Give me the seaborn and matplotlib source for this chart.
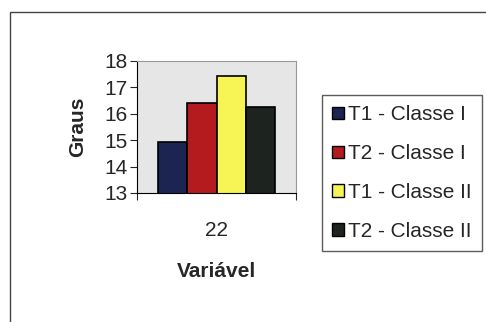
import matplotlib
matplotlib.use('Agg')
import matplotlib.pyplot as plt
import matplotlib.patches as mpatches
import seaborn as sns
import pandas as pd

# data
series = ['T1 - Classe I', 'T2 - Classe I', 'T1 - Classe II', 'T2 - Classe II']
values = [14.95, 16.4, 17.45, 16.25]
category = '22'
colors = ['#1c2452', '#b31b1e', '#f7f455', '#1d2420']

sns.set_style('white')
plt.rcParams['font.family'] = ['Liberation Sans', 'DejaVu Sans']

df = pd.DataFrame({'Variavel': [category] * len(series), 'Serie': series, 'Graus': values})

fig = plt.figure(figsize=(4.86, 3.22), dpi=100)
ax = fig.add_axes([137 / 486, 1 - 193 / 322, 159 / 486, 132 / 322])

sns.barplot(data=df, x='Variavel', y='Graus', hue='Serie', hue_order=series,
            palette=colors, width=0.74, gap=0, edgecolor='black', linewidth=1.2,
            saturation=1, legend=False, ax=ax)

ax.set_facecolor('#e6e6e6')
ax.set_ylim(13, 18)
ax.set_xlim(-0.5, 0.5)
ax.set_yticks([13, 14, 15, 16, 17, 18])
ax.tick_params(axis='y', labelsize=15, length=5, width=0.8, direction='out', pad=2, left=True)
ax.set_xticks([0])
ax.set_xticklabels([category], fontsize=15)
ax.tick_params(axis='x', length=0, pad=20)
ax.set_xticks([-0.5, 0.5], minor=True)
ax.tick_params(axis='x', which='minor', length=5, width=0.8, direction='out', bottom=True)

for side in ['top', 'right']:
    ax.spines[side].set_color('#999999')
    ax.spines[side].set_linewidth(0.8)
for side in ['left', 'bottom']:
    ax.spines[side].set_color('black')
    ax.spines[side].set_linewidth(0.8)

ax.set_ylabel('Graus', fontsize=15, fontweight='bold', labelpad=12)
ax.set_xlabel('Variável', fontsize=15, fontweight='bold', labelpad=16)

handles = [mpatches.Patch(facecolor=c, edgecolor='black', label=s) for s, c in zip(series, colors)]
leg = fig.legend(handles=handles, loc='upper left', bbox_to_anchor=(322 / 486, 1 - 95 / 322),
                 fontsize=15, frameon=True, fancybox=False, handlelength=0.55, handleheight=0.55,
                 handletextpad=0.2, labelspacing=0.95, borderpad=0.5, borderaxespad=0)
leg.get_frame().set_edgecolor('#333333')
leg.get_frame().set_linewidth(1.0)

# outer chart frame
fig.patches.append(mpatches.Rectangle((10 / 486, -0.1), 1.2, 1 - 12 / 322 + 0.1,
                                      transform=fig.transFigure, fill=False,
                                      edgecolor='#444444', linewidth=1.0))

fig.savefig('out.png', dpi=100)
